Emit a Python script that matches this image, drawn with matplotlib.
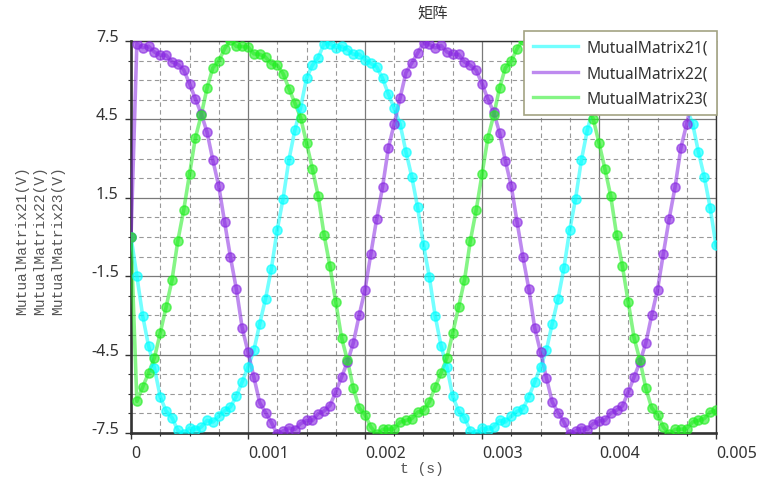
import numpy as np
import matplotlib
matplotlib.use("Agg")
import matplotlib.pyplot as plt
from matplotlib.lines import Line2D
from matplotlib.ticker import MultipleLocator, FixedLocator, FixedFormatter

# sample times (50 us steps, 0 .. 0.005 s)
t = np.linspace(0, 0.005, 101)

mutual21 = [
    0.00, -1.49, -3.02, -4.17, -5.01, -6.12, -6.66, -6.91, -7.40, -7.55,
    -7.31, -7.37, -7.27, -7.02, -7.08, -6.86, -6.65, -6.50, -6.10, -5.55,
    -4.97, -4.34, -3.32, -2.36, -1.21, 0.28, 1.47, 2.96, 4.08, 4.95,
    6.08, 6.57, 6.86, 7.40, 7.40, 7.25, 7.30, 7.17, 6.99, 6.99,
    6.79, 6.64, 6.51, 6.07, 5.47, 4.92, 4.32, 3.26, 2.30, 1.13,
    -0.31, -1.53, -3.02, -4.17, -4.97, -6.10, -6.66, -6.91, -7.42, -7.55,
    -7.31, -7.37, -7.27, -7.02, -7.08, -6.86, -6.67, -6.57, -6.12, -5.55,
    -4.97, -4.34, -3.32, -2.36, -1.19, 0.28, 1.47, 2.96, 4.08, 4.95,
    6.08, 6.57, 6.86, 7.40, 7.40, 7.25, 7.30, 7.17, 6.99, 6.99,
    6.79, 6.64, 6.51, 6.07, 5.47, 4.92, 4.34, 3.25, 2.30, 1.12,
    -0.32,
]

mutual22 = [
    0.00, 7.40, 7.25, 7.30, 7.08, 6.96, 6.96, 6.70, 6.61, 6.40,
    5.87, 5.29, 4.72, 4.01, 2.93, 1.95, 0.57, -0.77, -1.98, -3.47,
    -4.40, -5.36, -6.34, -6.72, -7.10, -7.55, -7.42, -7.31, -7.37, -7.14,
    -7.02, -7.02, -6.76, -6.66, -6.45, -5.93, -5.36, -4.78, -4.06, -3.00,
    -2.02, -0.64, 0.70, 1.91, 3.41, 4.34, 5.32, 6.29, 6.66, 7.04,
    7.42, 7.37, 7.24, 7.33, 7.08, 6.99, 6.99, 6.70, 6.57, 6.38,
    5.87, 5.28, 4.78, 3.99, 2.91, 1.95, 0.57, -0.77, -1.98, -3.47,
    -4.40, -5.38, -6.31, -6.72, -7.08, -7.55, -7.42, -7.31, -7.37, -7.14,
    -7.04, -7.02, -6.74, -6.63, -6.47, -5.93, -5.36, -4.78, -4.06, -3.00,
    -2.02, -0.64, 0.70, 1.91, 3.41, 4.34, 5.32, 6.29, 6.66, 7.04,
    7.42,
]

mutual23 = [
    0.00, -6.29, -5.74, -5.20, -4.63, -3.67, -2.68, -1.66, -0.15, 1.02,
    2.40, 3.79, 4.66, 5.70, 6.48, 6.73, 7.21, 7.55, 7.29, 7.29,
    7.27, 7.01, 6.99, 6.88, 6.63, 6.57, 6.25, 5.68, 5.13, 4.57,
    3.60, 2.62, 1.57, 0.09, -1.11, -2.49, -3.86, -4.72, -5.78, -6.54,
    -6.80, -7.27, -7.55, -7.36, -7.36, -7.33, -7.08, -7.02, -6.95, -6.70,
    -6.63, -6.31, -5.74, -5.20, -4.63, -3.67, -2.68, -1.66, -0.15, 1.02,
    2.40, 3.79, 4.66, 5.70, 6.48, 6.73, 7.21, 7.55, 7.29, 7.29,
    7.27, 7.01, 6.99, 6.88, 6.63, 6.57, 6.25, 5.68, 5.13, 4.53,
    3.60, 2.62, 1.57, 0.09, -1.11, -2.49, -3.86, -4.72, -5.78, -6.54,
    -6.80, -7.27, -7.55, -7.36, -7.36, -7.33, -7.08, -7.02, -6.95, -6.70,
    -6.63,
]

labels = ["MutualMatrix21(", "MutualMatrix22(", "MutualMatrix23("]
colors = ["#00ffff", "#8a2be2", "#22ee22"]
yticks = [-7.5, -4.5, -1.5, 1.5, 4.5, 7.5]
ytick_labels = ["-7.5", "-4.5", "-1.5", "1.5", "4.5", "7.5"]
xticks = [0, 0.001, 0.002, 0.003, 0.004, 0.005]
xtick_labels = ["0", "0.001", "0.002", "0.003", "0.004", "0.005"]

W, H = 767, 489
fig = plt.figure(figsize=(W / 100, H / 100), dpi=100)
ax = fig.add_axes([131 / W, 1 - 434 / H, 585 / W, 392 / H])

for y, c in zip([mutual21, mutual22, mutual23], colors):
    ax.plot(t, y, color=c, lw=2.6, alpha=0.55, zorder=3)
    ax.plot(t, y, ls="none", marker="o", ms=6.6, mfc=c, mec=c,
            mew=1.1, alpha=0.62, zorder=4)

ax.set_xlim(0, 0.005)
ax.set_ylim(-7.5, 7.5)

ax.xaxis.set_major_locator(FixedLocator(xticks))
ax.xaxis.set_major_formatter(FixedFormatter(xtick_labels))
ax.xaxis.set_minor_locator(MultipleLocator(0.00025))
ax.yaxis.set_major_locator(FixedLocator(yticks))
ax.yaxis.set_major_formatter(FixedFormatter(ytick_labels))
ax.yaxis.set_minor_locator(MultipleLocator(0.75))

ax.grid(which="major", color="#7a7a7a", lw=0.9, ls="-", zorder=1)
ax.grid(which="minor", color="#999999", lw=0.8, ls=(0, (4, 3)), zorder=1)
ax.set_axisbelow(True)

for side in ["left", "bottom"]:
    ax.spines[side].set_linewidth(1.9)
    ax.spines[side].set_color("#333333")
for side in ["top", "right"]:
    ax.spines[side].set_linewidth(1.0)
    ax.spines[side].set_color("#333333")

ax.tick_params(which="major", direction="out", length=4.3, width=1.0,
               color="#333333", labelsize=11.5, labelcolor="#333333")
ax.tick_params(which="minor", direction="out", length=2.5, width=0.8,
               color="#333333")
ax.tick_params(axis="y", pad=4.5)
ax.tick_params(axis="x", pad=4.5)
for lab in ax.get_yticklabels():
    lab.set_family("Noto Sans")
    lab.set_va("baseline")
for lab in ax.get_xticklabels():
    lab.set_family("Noto Sans")
    lab.set_ha("left")

fig.text(433 / W, 1 - 14 / H, "矩阵", ha="center", va="center",
         fontsize=11, color="#333333", family=["Noto Sans CJK SC", "DejaVu Sans"])
fig.text(40 / W, 1 - 241 / H,
         "MutualMatrix21(V)\nMutualMatrix22(V)\nMutualMatrix23(V)",
         rotation=90, ha="center", va="center", fontsize=10.5,
         linespacing=1.34, color="#555555", family="Liberation Mono")
fig.text(422 / W, 1 - 469 / H, "t (s)", ha="center", va="center",
         fontsize=10.5, color="#555555", family="Liberation Mono")

handles = [Line2D([], [], color=c, lw=2.4, alpha=0.55) for c in colors]
leg = fig.legend(handles, labels, loc="upper right",
                 bbox_to_anchor=(717 / W, 1 - 32 / H),
                 prop={"family": "Noto Sans", "size": 11.2},
                 handlelength=2.9, handletextpad=0.6, borderpad=0.55,
                 labelspacing=0.62, fancybox=False, framealpha=1,
                 edgecolor="#a3a383", facecolor="white",
                 borderaxespad=0)
leg.get_frame().set_linewidth(1.2)
for txt in leg.get_texts():
    txt.set_color("#333333")

fig.savefig("out.png", dpi=100, facecolor="white")
